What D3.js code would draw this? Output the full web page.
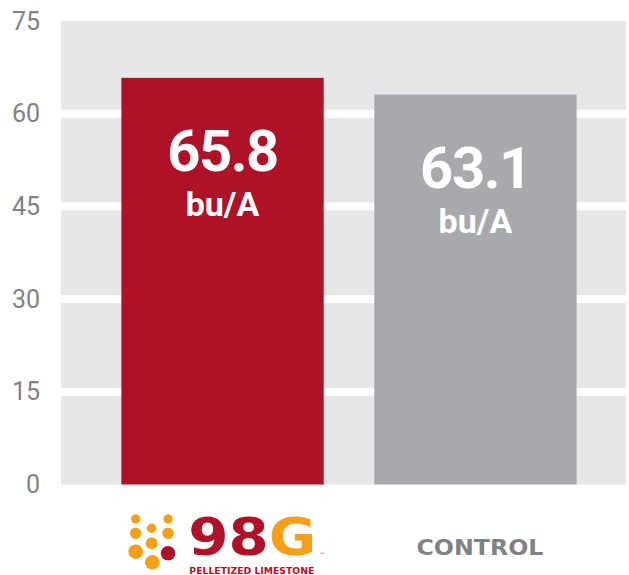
<!DOCTYPE html>
<html>
<head>
<meta charset="utf-8">
<script src="https://cdn.jsdelivr.net/npm/d3@7"></script>
<style>
  html, body { margin: 0; padding: 0; background: #ffffff; }
  svg { display: block; }
</style>
</head>
<body>
<svg id="chart" width="629" height="575"></svg>
<script>
// ---- data ----
const categories = ["98G", "CONTROL"];
const values = [65.8, 63.1];
const valueLabels = ["65.8", "63.1"];
const unitLabel = "bu/A";
const yTicks = [0, 15, 30, 45, 60, 75];
const barColors = ["#ad1228", "#a7a9ac"];

const svg = d3.select("#chart");
const panel = { left: 61, right: 626 };

const y = d3.scaleLinear().domain([0, 75]).range([484.5, 21]);
const x = d3.scaleBand()
  .domain(categories)
  .range([panel.left, panel.right])
  .paddingInner(0.2)
  .paddingOuter(0.217)
  .align(0.55);

// background panel
svg.append("rect")
  .attr("x", panel.left).attr("y", y(75))
  .attr("width", panel.right - panel.left)
  .attr("height", y(0) - y(75))
  .attr("fill", "#e6e7e8");

// white grid bands
svg.append("g").selectAll("rect")
  .data(yTicks.filter(t => t > 0 && t < 75))
  .join("rect")
  .attr("x", panel.left).attr("width", panel.right - panel.left)
  .attr("y", d => y(d) - 4).attr("height", 8)
  .attr("fill", "#ffffff");

// y axis labels
const yAxis = d3.axisLeft(y).tickValues(yTicks).tickSize(0).tickPadding(0);
const gy = svg.append("g").attr("transform", "translate(40,0)").call(yAxis);
gy.select(".domain").remove();
gy.selectAll("text")
  .attr("fill", "#808285")
  .style("font-family", "Roboto, 'Noto Sans', sans-serif")
  .style("font-size", "25px");

// bars
svg.append("g").selectAll("rect")
  .data(categories)
  .join("rect")
  .attr("x", d => x(d))
  .attr("width", x.bandwidth())
  .attr("y", (d, i) => y(values[i]))
  .attr("height", (d, i) => y(0) - y(values[i]))
  .attr("fill", (d, i) => barColors[i]);

// bar value labels
const lab = svg.append("g")
  .style("font-family", "Roboto, 'Noto Sans', sans-serif")
  .style("font-weight", "700")
  .attr("fill", "#ffffff")
  .attr("text-anchor", "middle");
lab.selectAll("text.val")
  .data(categories)
  .join("text")
  .attr("class", "val")
  .attr("x", d => x(d) + x.bandwidth() / 2)
  .attr("y", (d, i) => y(values[i]) + 93)
  .style("font-size", "58px")
  .style("letter-spacing", "-1.5px")
  .text((d, i) => valueLabels[i]);
lab.selectAll("text.unit")
  .data(categories)
  .join("text")
  .attr("class", "unit")
  .attr("x", d => x(d) + x.bandwidth() / 2)
  .attr("y", (d, i) => y(values[i]) + 138)
  .style("font-size", "34px")
  .text(unitLabel);

// x labels: 98G logo
const c0 = x("98G");
const logo = svg.append("g");
const dots = [
  [135.3, 519, 4.7, "#f6a01a"], [167.7, 519, 4.7, "#f6a01a"],
  [151.3, 528.3, 4.7, "#f6a01a"],
  [135.3, 533.3, 5.7, "#f6a01a"], [167.7, 533.3, 5.7, "#f6a01a"],
  [151.3, 543.3, 6, "#f6a01a"],
  [135.3, 551.7, 7.3, "#f6a01a"], [167.7, 553.3, 7.3, "#ad1228"],
  [152, 562.3, 7.3, "#f6a01a"]
];
logo.selectAll("circle").data(dots).join("circle")
  .attr("cx", d => d[0] - 121 + c0).attr("cy", d => d[1])
  .attr("r", d => d[2]).attr("fill", d => d[3]);
const big = logo.append("text")
  .attr("x", 188 - 121 + c0).attr("y", 555)
  .attr("textLength", 128).attr("lengthAdjust", "spacingAndGlyphs")
  .style("font-family", "'DejaVu Sans', sans-serif")
  .style("font-weight", "700")
  .style("font-size", "52px");
big.append("tspan").attr("fill", "#ad1228").text("98");
big.append("tspan").attr("fill", "#f6a01a").text("G");
logo.append("text")
  .attr("x", 319 - 121 + c0).attr("y", 557)
  .attr("fill", "#ad1228")
  .style("font-family", "'DejaVu Sans', sans-serif")
  .style("font-size", "6px")
  .text("™");
logo.append("text")
  .attr("x", 189 - 121 + c0).attr("y", 573.5)
  .attr("textLength", 125).attr("lengthAdjust", "spacingAndGlyphs")
  .attr("fill", "#ad1228")
  .style("font-family", "'DejaVu Sans', sans-serif")
  .style("font-weight", "700")
  .style("font-size", "8.5px")
  .text("PELLETIZED LIMESTONE");

// x label: CONTROL
svg.append("text")
  .attr("x", x("CONTROL") + x.bandwidth() / 2 - 59)
  .attr("y", 555)
  .attr("textLength", 127).attr("lengthAdjust", "spacingAndGlyphs")
  .attr("fill", "#808285")
  .style("font-family", "'DejaVu Sans', sans-serif")
  .style("font-weight", "700")
  .style("font-size", "22px")
  .text(categories[1]);
</script>
</body>
</html>
